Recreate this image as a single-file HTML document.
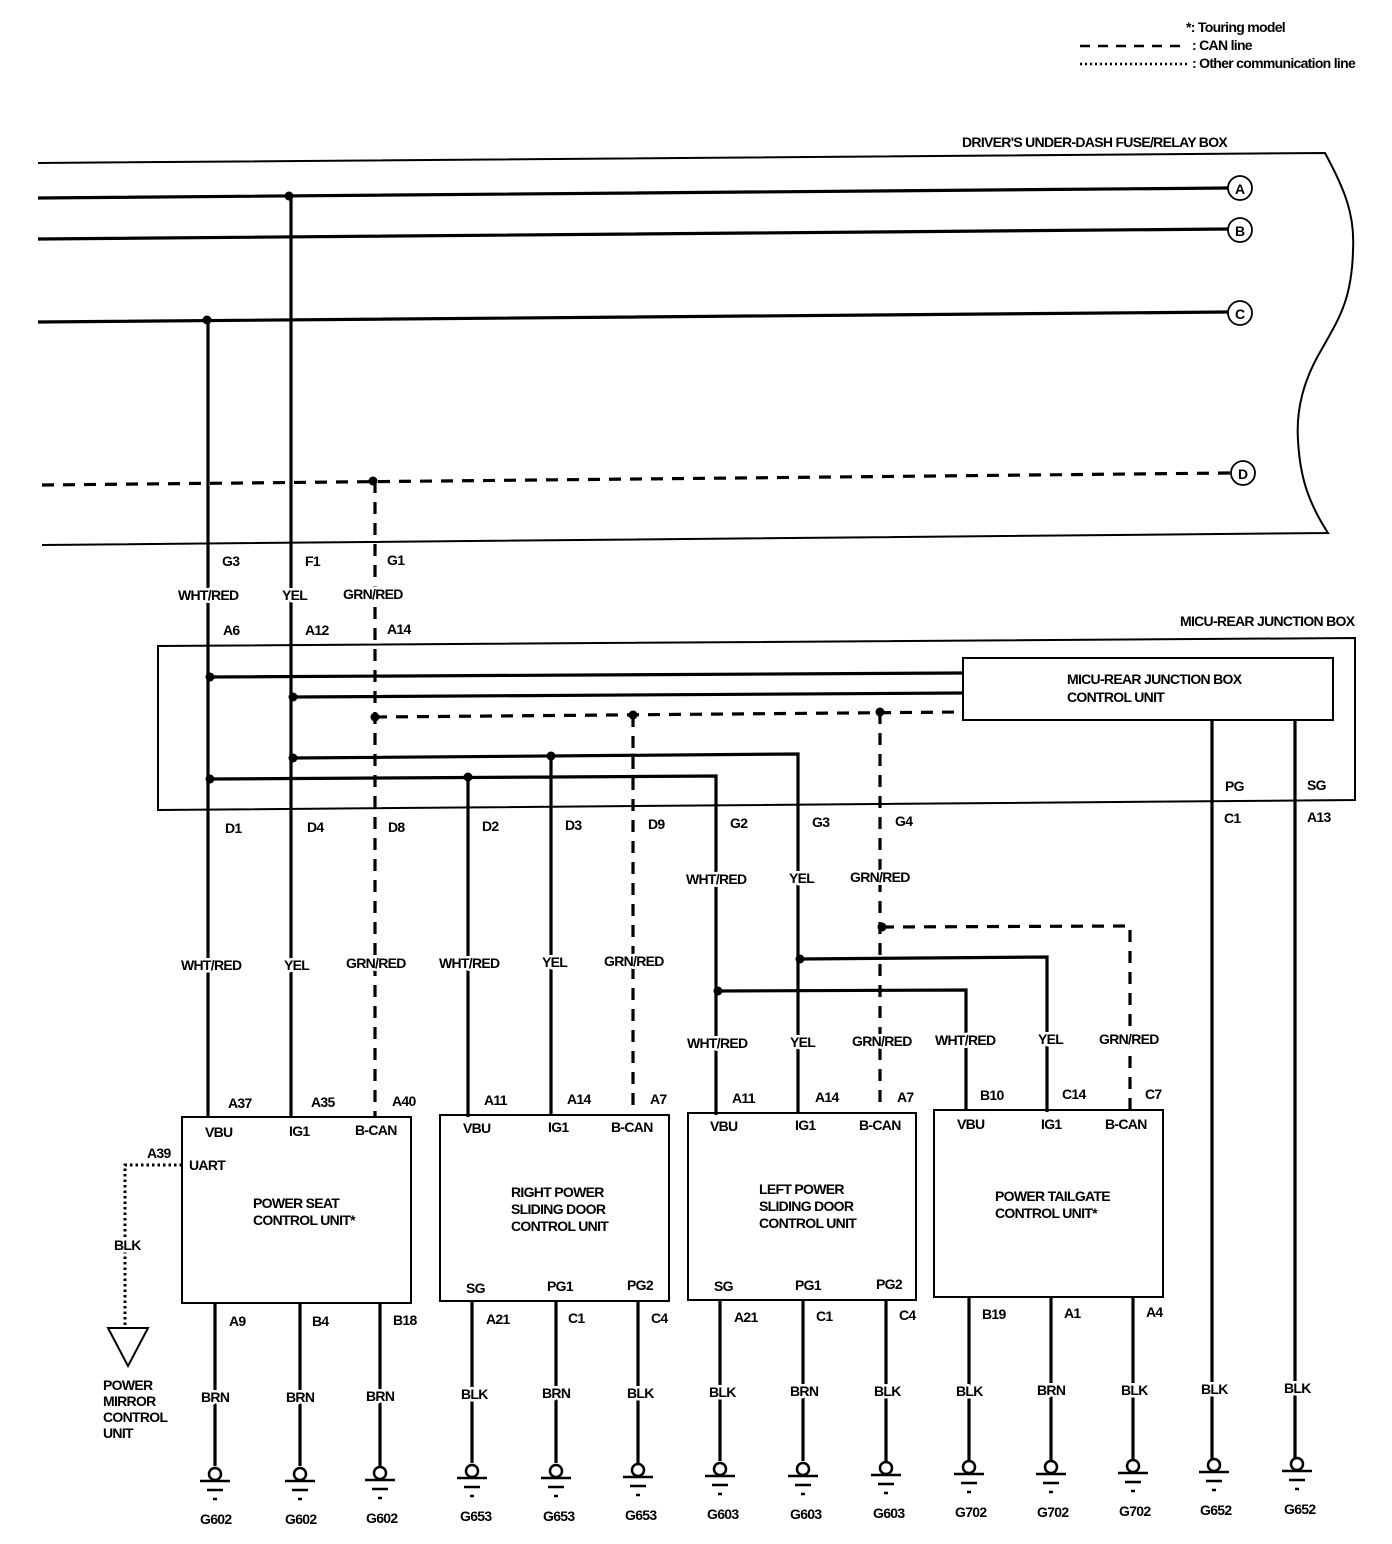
<!DOCTYPE html>
<html><head><meta charset="utf-8"><style>
html,body{margin:0;padding:0;background:#fff}
svg{display:block}
text{font-family:"Liberation Sans Narrow","Liberation Sans",sans-serif;font-weight:bold;font-size:14px;letter-spacing:-0.7px;fill:#000;paint-order:stroke;stroke:#fff;stroke-width:5px;stroke-linejoin:round}
.n{stroke:none}
.w{stroke:#000;stroke-width:3.2;fill:none}
.t{stroke:#000;stroke-width:2;fill:none}
.d{stroke:#000;stroke-width:3.2;fill:none;stroke-dasharray:12 9}
</style></head><body>
<svg width="1392" height="1544" viewBox="0 0 1392 1544" xmlns="http://www.w3.org/2000/svg">
<!-- legend -->
<text class="n" x="1186" y="32">*: Touring model</text>
<path d="M1080 46H1188" style="stroke:#000;stroke-width:2.5;stroke-dasharray:10 8"/>
<text class="n" x="1192" y="50">: CAN line</text>
<path d="M1080 64H1188" style="stroke:#000;stroke-width:2.5;stroke-dasharray:2 3"/>
<text class="n" x="1192" y="68">: Other communication line</text>

<!-- fuse box -->
<text class="n" x="962" y="147">DRIVER'S UNDER-DASH FUSE/RELAY BOX</text>
<path class="t" d="M38 163L1325 153C1345 190 1355 215 1353 250C1352 300 1338 320 1323 347C1303 380 1296 410 1298 440C1300 480 1310 505 1328 533L42 545"/>
<path class="w" d="M38 198L1228 188M38 239L1228 229M38 322L1228 312"/>
<path class="d" d="M42 485L1230 473"/>
<g class="t" style="stroke-width:1.8">
<circle cx="1240" cy="188" r="12" fill="#fff"/><circle cx="1240" cy="230" r="12" fill="#fff"/>
<circle cx="1240" cy="313" r="12" fill="#fff"/><circle cx="1243" cy="473" r="12" fill="#fff"/></g>
<g style="font-size:13px"><text class="n" x="1235" y="194">A</text><text class="n" x="1235" y="236">B</text><text class="n" x="1235" y="319">C</text><text class="n" x="1238" y="479">D</text></g>

<!-- main verticals -->
<path class="w" d="M208 320V1117M291 196V1117"/>
<path class="d" d="M375 481V1117"/>
<circle cx="289" cy="196" r="4.5"/><circle cx="207" cy="320" r="4.5"/><circle cx="373" cy="481" r="4.5"/>

<!-- MICU box -->
<text class="n" x="1180" y="626">MICU-REAR JUNCTION BOX</text>
<path class="t" d="M158 646L1355 638V800L158 810Z"/>
<rect class="t" x="963" y="658" width="370" height="62" fill="#fff"/>
<text class="n" x="1067" y="684">MICU-REAR JUNCTION BOX</text>
<text class="n" x="1067" y="702">CONTROL UNIT</text>
<path class="w" d="M210 677L963 673M293 697L963 693"/>
<path class="d" d="M375 717L963 712M633 715V1108M880 712V1110"/>
<path class="w" d="M293 758L798 754V1112M551 756V1115M210 779L716 776V1115M468 777V1117"/>
<g><circle cx="210" cy="677" r="4.5"/><circle cx="293" cy="697" r="4.5"/><circle cx="375" cy="717" r="4.5"/><circle cx="633" cy="715" r="4.5"/><circle cx="880" cy="712" r="4.5"/><circle cx="293" cy="758" r="4.5"/><circle cx="551" cy="756" r="4.5"/><circle cx="210" cy="779" r="4.5"/><circle cx="468" cy="777" r="4.5"/></g>
<path class="w" d="M1212 720V1460M1295 720V1460"/>

<!-- branches -->
<path class="w" d="M800 959L1047 957V1112M718 991L966 990V1110"/>
<path class="d" d="M882 927L1130 926V1110"/>
<circle cx="800" cy="959" r="4.5"/><circle cx="718" cy="991" r="4.5"/><circle cx="882" cy="927" r="4.5"/>

<!-- top labels -->
<text class="n" x="222" y="566">G3</text><text class="n" x="305" y="566">F1</text><text class="n" x="387" y="565">G1</text>
<text x="178" y="600">WHT/RED</text><text x="282" y="600">YEL</text><text x="343" y="599">GRN/RED</text>
<text class="n" x="223" y="635">A6</text><text class="n" x="305" y="635">A12</text><text class="n" x="387" y="634">A14</text>
<text class="n" x="225" y="833">D1</text><text class="n" x="307" y="832">D4</text><text class="n" x="388" y="832">D8</text>
<text class="n" x="482" y="831">D2</text><text class="n" x="565" y="830">D3</text><text class="n" x="648" y="829">D9</text>
<text class="n" x="730" y="828">G2</text><text class="n" x="812" y="827">G3</text><text class="n" x="895" y="826">G4</text>
<text class="n" x="1225" y="791">PG</text><text class="n" x="1307" y="790">SG</text>
<text class="n" x="1224" y="823">C1</text><text class="n" x="1307" y="822">A13</text>
<text x="686" y="884">WHT/RED</text><text x="789" y="883">YEL</text><text x="850" y="882">GRN/RED</text>
<text x="181" y="970">WHT/RED</text><text x="284" y="970">YEL</text><text x="346" y="968">GRN/RED</text>
<text x="439" y="968">WHT/RED</text><text x="542" y="967">YEL</text><text x="604" y="966">GRN/RED</text>
<text x="687" y="1048">WHT/RED</text><text x="790" y="1047">YEL</text><text x="852" y="1046">GRN/RED</text>
<text x="935" y="1045">WHT/RED</text><text x="1038" y="1044">YEL</text><text x="1099" y="1044">GRN/RED</text>

<!-- boxes -->
<rect class="t" x="182" y="1117" width="229" height="186" fill="none"/>
<rect class="t" x="440" y="1115" width="229" height="186" fill="none"/>
<rect class="t" x="688" y="1113" width="228" height="187" fill="none"/>
<rect class="t" x="934" y="1110" width="229" height="187" fill="none"/>
<g class="n">
<text class="n" x="228" y="1108">A37</text><text class="n" x="311" y="1107">A35</text><text class="n" x="392" y="1106">A40</text>
<text class="n" x="484" y="1105">A11</text><text class="n" x="567" y="1104">A14</text><text class="n" x="650" y="1104">A7</text>
<text class="n" x="732" y="1103">A11</text><text class="n" x="815" y="1102">A14</text><text class="n" x="897" y="1102">A7</text>
<text class="n" x="980" y="1100">B10</text><text class="n" x="1062" y="1099">C14</text><text class="n" x="1145" y="1099">C7</text>
<text class="n" x="205" y="1137">VBU</text><text class="n" x="289" y="1136">IG1</text><text class="n" x="355" y="1135">B-CAN</text>
<text class="n" x="463" y="1133">VBU</text><text class="n" x="548" y="1132">IG1</text><text class="n" x="611" y="1132">B-CAN</text>
<text class="n" x="710" y="1131">VBU</text><text class="n" x="795" y="1130">IG1</text><text class="n" x="859" y="1130">B-CAN</text>
<text class="n" x="957" y="1129">VBU</text><text class="n" x="1041" y="1129">IG1</text><text class="n" x="1105" y="1129">B-CAN</text>
<text class="n" x="189" y="1170">UART</text><text class="n" x="147" y="1158">A39</text>
<text class="n" x="253" y="1208">POWER SEAT</text><text class="n" x="253" y="1225">CONTROL UNIT*</text>
<text class="n" x="511" y="1197">RIGHT POWER</text><text class="n" x="511" y="1214">SLIDING DOOR</text><text class="n" x="511" y="1231">CONTROL UNIT</text>
<text class="n" x="759" y="1194">LEFT POWER</text><text class="n" x="759" y="1211">SLIDING DOOR</text><text class="n" x="759" y="1228">CONTROL UNIT</text>
<text class="n" x="995" y="1201">POWER TAILGATE</text><text class="n" x="995" y="1218">CONTROL UNIT*</text>
<text class="n" x="466" y="1293">SG</text><text class="n" x="547" y="1291">PG1</text><text class="n" x="627" y="1290">PG2</text>
<text class="n" x="714" y="1291">SG</text><text class="n" x="795" y="1290">PG1</text><text class="n" x="876" y="1289">PG2</text>
<text class="n" x="229" y="1326">A9</text><text class="n" x="312" y="1326">B4</text><text class="n" x="393" y="1325">B18</text>
<text class="n" x="486" y="1324">A21</text><text class="n" x="568" y="1323">C1</text><text class="n" x="651" y="1323">C4</text>
<text class="n" x="734" y="1322">A21</text><text class="n" x="816" y="1321">C1</text><text class="n" x="899" y="1320">C4</text>
<text class="n" x="982" y="1319">B19</text><text class="n" x="1064" y="1318">A1</text><text class="n" x="1146" y="1317">A4</text>
</g>

<!-- UART -->
<path d="M182 1165H125V1325" style="stroke:#000;stroke-width:3;fill:none;stroke-dasharray:2.5 3"/>
<text x="114" y="1250">BLK</text>
<path class="t" d="M108 1328H148L128 1366Z" fill="#fff"/>
<text class="n" x="103" y="1390">POWER</text><text class="n" x="103" y="1406">MIRROR</text><text class="n" x="103" y="1422">CONTROL</text><text class="n" x="103" y="1438">UNIT</text>

<!-- bottom wires -->
<path class="w" d="M215 1303V1466M300 1303V1466M380 1303V1466M472 1301V1463M556 1301V1463M638 1301V1463M720 1300V1461M803 1300V1461M886 1300V1461M969 1297V1460M1051 1297V1460M1133 1297V1460"/>
<text x="201" y="1402">BRN</text><text x="286" y="1402">BRN</text><text x="366" y="1401">BRN</text>
<text x="461" y="1399">BLK</text><text x="542" y="1398">BRN</text><text x="627" y="1398">BLK</text>
<text x="709" y="1397">BLK</text><text x="790" y="1396">BRN</text><text x="874" y="1396">BLK</text>
<text x="956" y="1396">BLK</text><text x="1037" y="1395">BRN</text><text x="1121" y="1395">BLK</text>
<text x="1201" y="1394">BLK</text><text x="1284" y="1393">BLK</text>

<!-- grounds -->
<g class="t" style="stroke-width:2.5">
<g transform="translate(215,1474)"><circle r="6" fill="#fff"/><path d="M-15 7H15M-8 16H8M-2 25H2"/></g>
<g transform="translate(300,1474)"><circle r="6" fill="#fff"/><path d="M-15 7H15M-8 16H8M-2 25H2"/></g>
<g transform="translate(380,1473)"><circle r="6" fill="#fff"/><path d="M-15 7H15M-8 16H8M-2 25H2"/></g>
<g transform="translate(472,1471)"><circle r="6" fill="#fff"/><path d="M-15 7H15M-8 16H8M-2 25H2"/></g>
<g transform="translate(556,1471)"><circle r="6" fill="#fff"/><path d="M-15 7H15M-8 16H8M-2 25H2"/></g>
<g transform="translate(638,1470)"><circle r="6" fill="#fff"/><path d="M-15 7H15M-8 16H8M-2 25H2"/></g>
<g transform="translate(720,1469)"><circle r="6" fill="#fff"/><path d="M-15 7H15M-8 16H8M-2 25H2"/></g>
<g transform="translate(803,1469)"><circle r="6" fill="#fff"/><path d="M-15 7H15M-8 16H8M-2 25H2"/></g>
<g transform="translate(886,1468)"><circle r="6" fill="#fff"/><path d="M-15 7H15M-8 16H8M-2 25H2"/></g>
<g transform="translate(969,1467)"><circle r="6" fill="#fff"/><path d="M-15 7H15M-8 16H8M-2 25H2"/></g>
<g transform="translate(1051,1467)"><circle r="6" fill="#fff"/><path d="M-15 7H15M-8 16H8M-2 25H2"/></g>
<g transform="translate(1133,1466)"><circle r="6" fill="#fff"/><path d="M-15 7H15M-8 16H8M-2 25H2"/></g>
<g transform="translate(1214,1465)"><circle r="6" fill="#fff"/><path d="M-15 7H15M-8 16H8M-2 25H2"/></g>
<g transform="translate(1297,1464)"><circle r="6" fill="#fff"/><path d="M-15 7H15M-8 16H8M-2 25H2"/></g>
</g>
<g>
<text class="n" x="200" y="1524">G602</text><text class="n" x="285" y="1524">G602</text><text class="n" x="366" y="1523">G602</text>
<text class="n" x="460" y="1521">G653</text><text class="n" x="543" y="1521">G653</text><text class="n" x="625" y="1520">G653</text>
<text class="n" x="707" y="1519">G603</text><text class="n" x="790" y="1519">G603</text><text class="n" x="873" y="1518">G603</text>
<text class="n" x="955" y="1517">G702</text><text class="n" x="1037" y="1517">G702</text><text class="n" x="1119" y="1516">G702</text>
<text class="n" x="1200" y="1515">G652</text><text class="n" x="1284" y="1514">G652</text>
</g>
</svg>
</body></html>
